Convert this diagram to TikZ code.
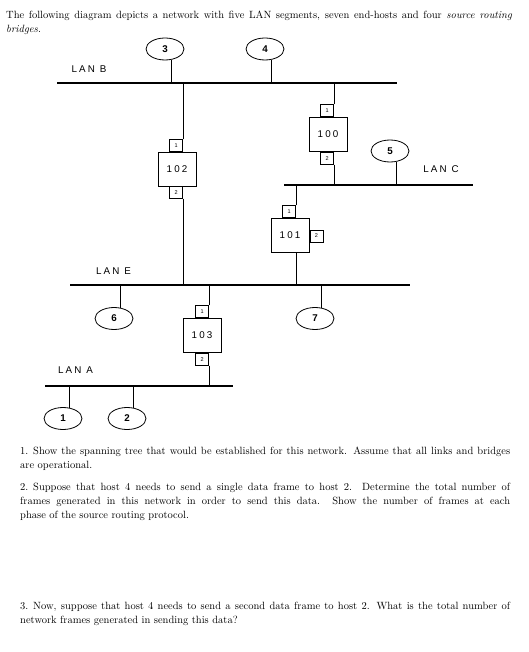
\documentclass[tikz,border=0pt]{standalone}
\usepackage{fontspec}
\newfontfamily\lanfont[LetterSpace=22]{Liberation Sans}
\usetikzlibrary{shapes.geometric}
\begin{document}
\begin{tikzpicture}[x=1pt,y=-1pt,
  lan/.style={line width=2.6pt},
  wire/.style={line width=0.9pt},
  host/.style={draw, ellipse, line width=0.8pt, minimum width=38pt, minimum height=22pt, inner sep=0pt,
    font=\lanfont\fontsize{9.8}{10}\selectfont\bfseries},
  bridge/.style={draw, fill=white, line width=0.8pt, minimum width=38pt, minimum height=34pt, inner sep=0pt,
    font=\lanfont\fontsize{9.8}{10}\selectfont},
  port/.style={draw, fill=white, line width=0.7pt, minimum width=13pt, minimum height=12pt, inner sep=0pt,
    font=\lanfont\fontsize{5.5}{6}\selectfont},
  lanlabel/.style={font=\lanfont\fontsize{9.8}{10}\selectfont, inner sep=0pt},
  para/.style={anchor=north west, inner sep=0pt, align=justify, font=\fontsize{10.5}{14}\selectfont}
]
\useasboundingbox (0,0) rectangle (528,652);

% text
\node[para, text width=506pt] (intro) at (6,11) {\noindent The following diagram depicts a network with five LAN segments, seven end-hosts and four \textit{source routing}\linebreak \textit{bridges}.};

% LAN segments
\coordinate (lanBl) at (57,83);  \coordinate (lanBr) at (397,83);
\coordinate (lanCl) at (284,185); \coordinate (lanCr) at (473,185);
\coordinate (lanEl) at (70,285); \coordinate (lanEr) at (410,285);
\coordinate (lanAl) at (45,386); \coordinate (lanAr) at (233,386);
\draw[lan] (lanBl) -- (lanBr);
\draw[lan] (lanCl) -- (lanCr);
\draw[lan] (lanEl) -- (lanEr);
\draw[lan] (lanAl) -- (lanAr);

\node[lanlabel] (labB) at (89,69.5) {LAN B};
\node[lanlabel] (labC) at (441,169.5) {LAN C};
\node[lanlabel] (labE) at (113.5,271.5) {LAN E};
\node[lanlabel] (labA) at (75.5,370.5) {LAN A};

% hosts
\node[host] (h3) at (165,49) {3};
\node[host] (h4) at (265,49) {4};
\node[host] (h5) at (390,151) {5};
\node[host] (h6) at (114,318.5) {6};
\node[host] (h7) at (315,318.5) {7};
\node[host] (h1) at (63,418.5) {1};
\node[host] (h2) at (127,418.5) {2};

\draw[wire] (h3.-60) -- (h3.-60 |- lanBl);
\draw[wire] (h4.-60) -- (h4.-60 |- lanBl);
\draw[wire] (h5.-60) -- (h5.-60 |- lanCl);
\draw[wire] (h6.60) -- (h6.60 |- lanEl);
\draw[wire] (h7.60) -- (h7.60 |- lanEl);
\draw[wire] (h1.60) -- (h1.60 |- lanAl);
\draw[wire] (h2.60) -- (h2.60 |- lanAl);

% bridge 102
\node[bridge] (b102) at (177,169) {102};
\node[port, anchor=south east] (p102a) at (183,152) {1};
\node[port, anchor=north east] (p102b) at (183,186) {2};
\draw[wire] (p102a.north east) -- (p102a.north east |- lanBl);
\draw[wire] (p102b.south east) -- (p102b.south east |- lanEl);

% bridge 100
\node[bridge] (b100) at (328,134.5) {100};
\node[port, anchor=south east] (p100a) at (334,117) {1};
\node[port, anchor=north east] (p100b) at (334,152) {2};
\draw[wire] (p100a.north east) -- (p100a.north east |- lanBl);
\draw[wire] (p100b.south east) -- (p100b.south east |- lanCl);

% bridge 101
\node[bridge] (b101) at (290,235) {101};
\node[port, anchor=south east] (p101a) at (296,218) {1};
\node[port, anchor=west] (p101b) at (309.5,236) {2};
\draw[wire] (p101a.north east) -- (p101a.north east |- lanCl);
\draw[wire] (p101a.north east |- b101.south) -- (p101a.north east |- lanEl);

% bridge 103
\node[bridge] (b103) at (202,335.5) {103};
\node[port, anchor=south east] (p103a) at (209,318) {1};
\node[port, anchor=north east] (p103b) at (209,353) {2};
\draw[wire] (p103a.north east) -- (p103a.north east |- lanEl);
\draw[wire] (p103b.south east) -- (p103b.south east |- lanAl);

% questions
\node[para, text width=490pt] (q1) at (20,447) {\noindent\hangindent=13pt\hangafter=1\makebox[13pt][l]{1.}Show the spanning tree that would be established for this network. Assume that all links and bridges\linebreak are operational.};
\node[para, text width=490pt] (q2) at (20,483) {\noindent\hangindent=13pt\hangafter=1\makebox[13pt][l]{2.}Suppose that host 4 needs to send a single data frame to host 2. Determine the total number of\linebreak frames generated in this network in order to send this data. Show the number of frames at each\linebreak phase of the source routing protocol.};
\node[para, text width=490pt] (q3) at (20,602) {\noindent\hangindent=13pt\hangafter=1\makebox[13pt][l]{3.}Now, suppose that host 4 needs to send a second data frame to host 2. What is the total number of\linebreak network frames generated in sending this data?};
\end{tikzpicture}
\end{document}
